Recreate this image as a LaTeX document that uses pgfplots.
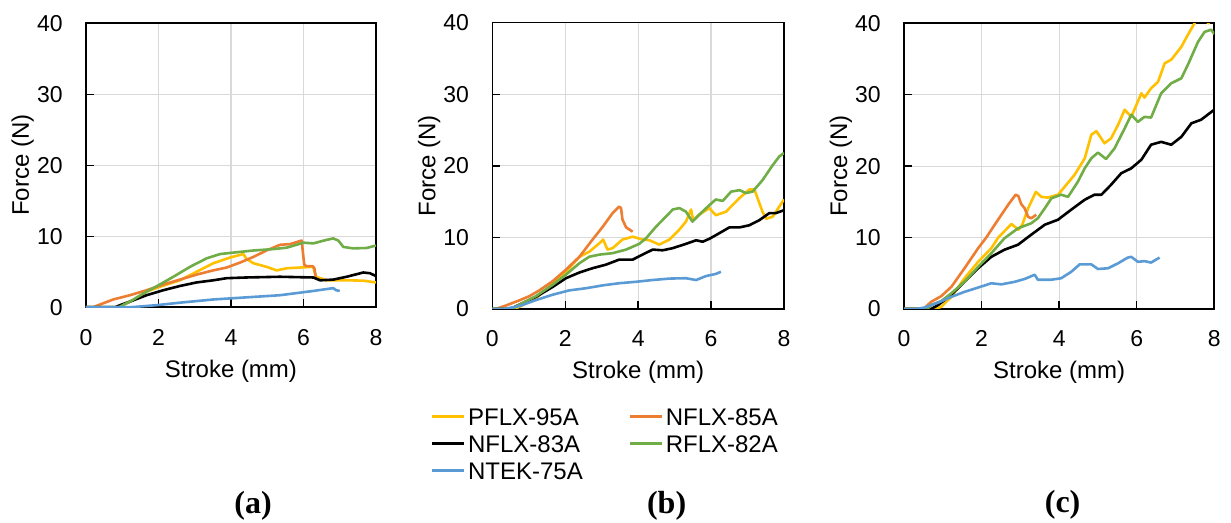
\documentclass[border=0pt]{standalone}
\usepackage{pgfplots}
\pgfplotsset{compat=1.18}
\usepackage{fontspec}
\setmainfont{Liberation Sans}
\newfontfamily\serifbold{Liberation Serif}
\definecolor{cY}{HTML}{FFC000}
\definecolor{cO}{HTML}{ED7D31}
\definecolor{cG}{HTML}{70AD47}
\definecolor{cB}{HTML}{5B9BD5}
\definecolor{cGrid}{HTML}{D9D9D9}
\pgfplotsset{
  panel/.style={
    scale only axis, anchor=south west,
    xmin=0, xmax=8, ymin=0, ymax=40,
    xtick={0,2,4,6,8}, ytick={0,10,20,30,40},
    grid=major,
    major grid style={cGrid, line width=0.6pt},
    axis line style={black, line width=0.8pt},
    tick style={black, line width=0.7pt},
    major tick length=4pt,
    tick align=inside,
    xtick pos=lower, ytick pos=left,
    /pgf/number format/assume math mode=true,
    ticklabel style={font=\fontsize{11.5}{13}\selectfont},
    xticklabel style={anchor=base, inner sep=0pt, yshift=-19pt},
    yticklabel style={anchor=east, inner sep=0pt, xshift=-11.5pt},
    xlabel={Stroke (mm)}, ylabel={Force (N)},
    label style={font=\fontsize{12}{14}\selectfont},
    xlabel style={at={(axis description cs:0.5,0)}, anchor=base, yshift=-35pt},
    every axis plot/.append style={line width=1.3pt, no markers, line join=round},
  }
}
\begin{document}
\begin{tikzpicture}
\path[use as bounding box] (0,0) rectangle (615.5pt,261.5pt);
% ---------------- (a)
\begin{axis}[panel, at={(43pt,107.85pt)}, width=145pt, height=142pt,
  ylabel style={at={(axis description cs:-0.1966,0.5)}, anchor=base}]
\addplot[cY] coordinates {(0,0) (0.8,0) (1.0,0.3) (1.3,1.0) (1.67,2.2) (2.1,3.0) (2.59,3.8) (3.05,5.0) (3.51,6.2) (3.97,7.0) (4.34,7.5) (4.43,6.8) (4.62,6.2) (4.98,5.7) (5.26,5.2) (5.54,5.5) (5.9,5.6) (6.27,5.7) (6.34,4.3) (6.64,3.8) (7.19,3.8) (7.65,3.75) (8,3.5)};
\addplot[cO] coordinates {(0,0) (0.2,0) (0.29,0.2) (0.75,1.1) (1.21,1.7) (1.67,2.4) (2.13,3.2) (2.59,3.9) (3.05,4.6) (3.51,5.2) (3.88,5.6) (4.25,6.3) (4.62,7.1) (4.98,8.0) (5.35,8.8) (5.63,8.9) (5.95,9.4) (6.02,6.0) (6.08,5.8) (6.25,5.8) (6.3,5.5) (6.34,4.3)};
\addplot[black] coordinates {(0,0) (0.8,0) (0.94,0.3) (1.21,0.8) (1.67,1.7) (2.13,2.4) (2.59,3.0) (3.05,3.5) (3.51,3.8) (3.88,4.1) (4.43,4.2) (5.35,4.3) (6.27,4.2) (6.46,3.8) (6.82,3.9) (7.19,4.3) (7.65,4.9) (7.83,4.8) (8,4.4)};
\addplot[cG] coordinates {(0,0) (0.9,0) (1.21,0.8) (1.67,2.2) (2.0,3.1) (2.41,4.3) (2.87,5.7) (3.33,6.9) (3.70,7.5) (4.06,7.7) (4.62,8.0) (5.17,8.2) (5.54,8.4) (6.0,9.1) (6.27,9.0) (6.64,9.5) (6.82,9.7) (6.96,9.4) (7.1,8.5) (7.37,8.3) (7.74,8.35) (8,8.7)};
\addplot[cB] coordinates {(0,0) (1.21,0) (1.95,0.3) (2.59,0.65) (3.51,1.1) (4.43,1.4) (5.35,1.7) (6.27,2.3) (6.82,2.7) (6.9,2.4) (7.0,2.3)};
\end{axis}
% ---------------- (b)
\begin{axis}[panel, at={(246.15pt,107pt)}, width=145.85pt, height=143.15pt,
  ylabel style={at={(axis description cs:-0.1954,0.5)}, anchor=base},
  legend columns=2, legend cell align=left,
  legend image code/.code={\draw[#1, line width=1.3pt] (0pt,0pt) -- (16pt,0pt);},
  legend style={draw=none, fill=none, inner sep=0pt,
    at={(axis description cs:-0.2112,-0.3447)}, anchor=north west,
    font=\fontsize{12}{14}\selectfont,
    nodes={inner sep=0pt, text height=8.6pt, text depth=0pt},
    row sep=4.9pt,
    /tikz/every odd column/.style={column sep=1.2pt},
    /tikz/every even column/.style={column sep=23pt}}]
\addplot[cY] coordinates {(0,0) (0.6,0) (0.74,0.3) (1.2,1.5) (1.66,3.6) (2.02,5.2) (2.39,7.3) (2.66,8.0) (2.94,9.2) (3.04,9.7) (3.16,8.3) (3.3,8.5) (3.57,9.7) (3.85,10.1) (4.12,9.7) (4.31,9.6) (4.58,9.0) (4.86,9.7) (5.13,11.1) (5.31,12.2) (5.45,13.9) (5.51,12.4) (5.68,13.2) (5.95,14.1) (6.13,13.1) (6.41,13.6) (6.78,15.5) (7.05,16.7) (7.19,16.7) (7.28,15.4) (7.41,13.6) (7.51,12.6) (7.69,12.9) (7.87,14.3) (8,15.3)};
\addlegendentry{PFLX-95A}
\addplot[cO] coordinates {(0,0) (0.1,0) (0.38,0.5) (0.74,1.2) (1.02,1.8) (1.29,2.6) (1.66,3.9) (2.02,5.5) (2.39,7.3) (2.75,9.7) (3.03,11.5) (3.3,13.4) (3.48,14.3) (3.53,14.1) (3.57,12.5) (3.67,11.4) (3.85,10.8)};
\addlegendentry{NFLX-85A}
\addplot[black] coordinates {(0,0) (0.5,0) (0.74,0.6) (1.2,1.7) (1.66,3.1) (2.02,4.3) (2.39,5.1) (2.75,5.7) (3.12,6.2) (3.48,6.9) (3.85,6.9) (4.12,7.6) (4.4,8.3) (4.67,8.2) (4.95,8.5) (5.31,9.1) (5.59,9.6) (5.77,9.4) (5.95,9.8) (6.23,10.6) (6.5,11.4) (6.78,11.4) (7.05,11.7) (7.32,12.4) (7.6,13.4) (7.78,13.4) (8,13.8)};
\addlegendentry{NFLX-83A}
\addplot[cG] coordinates {(0,0) (0.55,0) (0.74,0.6) (1.2,1.8) (1.66,3.4) (2.02,4.8) (2.39,6.4) (2.66,7.3) (2.94,7.6) (3.3,7.8) (3.67,8.3) (4.03,9.1) (4.22,9.9) (4.49,11.5) (4.76,12.9) (4.95,13.9) (5.13,14.1) (5.31,13.6) (5.49,12.2) (5.68,13.2) (5.95,14.5) (6.13,15.3) (6.32,15.1) (6.55,16.4) (6.78,16.6) (6.96,16.2) (7.14,16.4) (7.41,18.0) (7.69,20.1) (7.87,21.3) (8,21.8)};
\addlegendentry{RFLX-82A}
\addplot[cB] coordinates {(0,0) (0.3,0) (0.74,0.4) (1.2,1.25) (1.66,2.0) (2.11,2.6) (2.57,2.9) (3.03,3.3) (3.48,3.6) (3.94,3.8) (4.4,4.05) (4.86,4.25) (5.31,4.3) (5.59,4.05) (5.86,4.6) (6.13,4.9) (6.27,5.2)};
\addlegendentry{NTEK-75A}
\end{axis}
% ---------------- (c)
\begin{axis}[panel, at={(452pt,107pt)}, width=155.15pt, height=142.85pt,
  ylabel style={at={(axis description cs:-0.1837,0.5)}, anchor=base}]
\addplot[cY] coordinates {(0,0) (0.8,0) (0.96,0.3) (1.22,1.7) (1.56,4.3) (1.91,6.6) (2.25,8.5) (2.43,10.0) (2.77,11.9) (2.95,11.1) (3.05,11.8) (3.2,14.1) (3.4,16.4) (3.54,15.7) (3.71,15.6) (3.97,16.0) (4.14,17.1) (4.4,18.8) (4.66,21.1) (4.83,24.4) (4.96,24.9) (5.17,23.2) (5.34,23.9) (5.52,25.8) (5.69,27.9) (5.86,26.9) (6.12,30.2) (6.2,29.6) (6.37,30.9) (6.55,31.8) (6.72,34.4) (6.89,34.9) (7.15,36.7) (7.32,38.4) (7.49,40.0) (7.62,41.5) (7.8,40.3) (7.85,40.0) (7.9,41.5) (8,42.5)};
\addplot[cO] coordinates {(0,0) (0.5,0) (0.7,1.0) (0.96,1.8) (1.22,3.1) (1.56,5.7) (1.91,8.5) (2.12,10.0) (2.4,12.3) (2.7,14.7) (2.88,16.0) (2.95,15.8) (3.02,14.7) (3.11,14.1) (3.2,12.9) (3.28,12.7) (3.41,13.2)};
\addplot[black] coordinates {(0,0) (0.7,0) (0.88,0.55) (1.22,2.0) (1.56,3.8) (1.91,5.7) (2.25,7.3) (2.59,8.3) (2.94,9.0) (3.28,10.4) (3.63,11.8) (3.97,12.5) (4.31,13.9) (4.66,15.3) (4.91,16.0) (5.09,16.0) (5.34,17.4) (5.6,19.0) (5.86,19.7) (6.12,20.9) (6.37,23.0) (6.63,23.4) (6.89,23.0) (7.15,24.1) (7.41,26.0) (7.66,26.5) (8,27.9)};
\addplot[cG] coordinates {(0,0) (0.6,0) (0.7,0.55) (0.96,1.1) (1.22,2.2) (1.56,3.8) (1.91,5.9) (2.25,7.8) (2.59,9.9) (2.94,11.3) (3.28,12.0) (3.45,12.7) (3.63,14.1) (3.8,15.5) (4.05,16.0) (4.23,15.7) (4.48,17.8) (4.66,19.7) (4.83,21.1) (5.0,21.9) (5.21,21.0) (5.43,22.5) (5.69,25.3) (5.86,27.2) (6.03,26.2) (6.2,26.9) (6.37,26.8) (6.63,30.2) (6.89,31.6) (7.15,32.3) (7.32,34.2) (7.58,37.4) (7.75,38.8) (7.92,39.1) (8,38.5)};
\addplot[cB] coordinates {(0,0) (0.3,0) (0.53,0.2) (0.88,0.9) (1.22,1.7) (1.56,2.4) (1.91,3.0) (2.25,3.6) (2.51,3.45) (2.85,3.8) (3.11,4.2) (3.37,4.8) (3.45,4.1) (3.8,4.1) (4.05,4.3) (4.31,5.2) (4.53,6.25) (4.83,6.25) (5.0,5.6) (5.26,5.7) (5.52,6.4) (5.77,7.2) (5.86,7.3) (6.03,6.6) (6.2,6.7) (6.37,6.5) (6.59,7.2)};
\end{axis}
\node[anchor=base, font=\fontsize{16}{18}\selectfont\serifbold\bfseries] at (126.5pt,4.5pt) {(a)};
\node[anchor=base, font=\fontsize{16}{18}\selectfont\serifbold\bfseries] at (333.3pt,4.5pt) {(b)};
\node[anchor=base, font=\fontsize{16}{18}\selectfont\serifbold\bfseries] at (531.3pt,5pt) {(c)};
\end{tikzpicture}
\end{document}
